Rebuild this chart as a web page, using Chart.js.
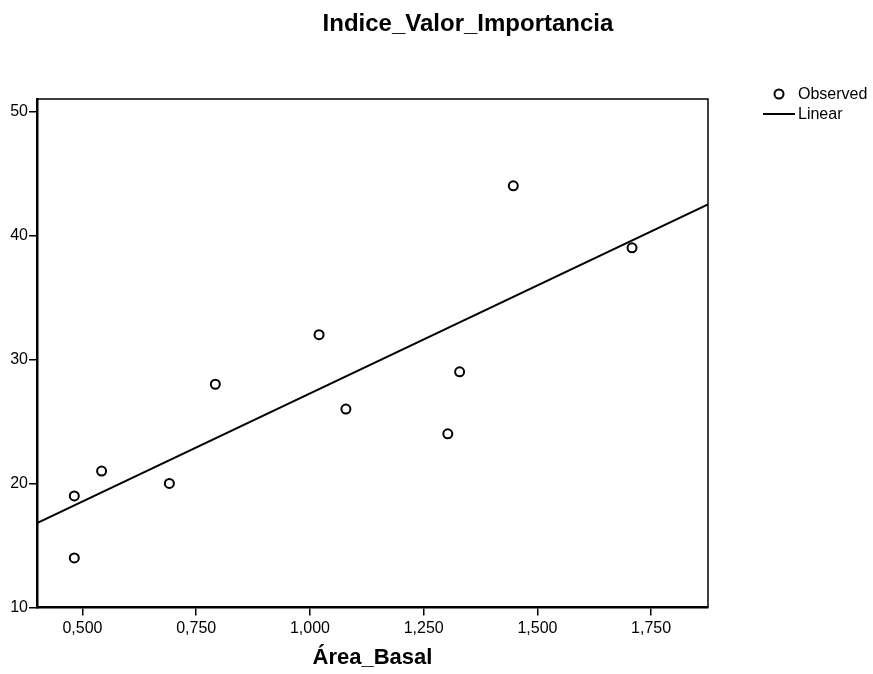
<!DOCTYPE html>
<html>
<head>
<meta charset="utf-8">
<script src="https://cdn.jsdelivr.net/npm/chart.js@4.4.0/dist/chart.umd.min.js"></script>
<style>
  html, body { margin: 0; padding: 0; background: #fff; }
</style>
</head>
<body>
<canvas id="ivChart" width="873" height="674"></canvas>
<script>
// values
var areaBasal = [0.482, 0.482, 0.542, 0.691, 0.792, 1.020, 1.079, 1.303, 1.329, 1.447, 1.708];
var indiceValor = [19, 14, 21, 20, 28, 32, 26, 24, 29, 44, 39];
var linearX = [0.4, 1.875];
var linearY = [16.8, 42.5];
var xTicks = [0.5, 0.75, 1.0, 1.25, 1.5, 1.75];
var yTicks = [10, 20, 30, 40, 50];

var FONT = "'Liberation Sans', Arial, sans-serif";

var decor = {
  id: 'decor',
  afterDraw: function (chart) {
    var ctx = chart.ctx, a = chart.chartArea;
    ctx.save();
    // top and right frame
    ctx.strokeStyle = '#000';
    ctx.lineWidth = 1.5;
    ctx.beginPath();
    ctx.moveTo(a.left, a.top);
    ctx.lineTo(a.right, a.top);
    ctx.lineTo(a.right, a.bottom);
    ctx.stroke();

    ctx.fillStyle = '#000';
    ctx.textAlign = 'center';
    ctx.textBaseline = 'middle';
    ctx.font = 'bold 24px ' + FONT;
    ctx.fillText('Indice_Valor_Importancia', 468, 24);
    ctx.font = 'bold 22px ' + FONT;
    ctx.fillText('Área_Basal', (a.left + a.right) / 2, 658);

    // legend
    ctx.lineWidth = 2;
    ctx.beginPath();
    ctx.arc(779, 94, 4.5, 0, Math.PI * 2);
    ctx.stroke();
    ctx.beginPath();
    ctx.moveTo(763, 114);
    ctx.lineTo(795, 114);
    ctx.stroke();
    ctx.font = '16px ' + FONT;
    ctx.textAlign = 'left';
    ctx.fillText('Observed', 798, 95);
    ctx.fillText('Linear', 798, 115);
    ctx.restore();
  }
};

var observed = areaBasal.map(function (x, i) { return { x: x, y: indiceValor[i] }; });
var linear = linearX.map(function (x, i) { return { x: x, y: linearY[i] }; });

var ctx = document.getElementById('ivChart').getContext('2d');
new Chart(ctx, {
  type: 'scatter',
  data: {
    datasets: [
      {
        label: 'Observed',
        data: observed,
        pointStyle: 'circle',
        pointRadius: 4.5,
        borderColor: '#000',
        backgroundColor: 'rgba(255,255,255,0)',
        borderWidth: 2
      },
      {
        type: 'line',
        label: 'Linear',
        data: linear,
        borderColor: '#000',
        borderWidth: 2,
        pointRadius: 0,
        fill: false
      }
    ]
  },
  options: {
    responsive: false,
    animation: false,
    layout: { padding: { top: 99, right: 165, left: 0, bottom: 0 } },
    plugins: { legend: { display: false }, tooltip: { enabled: false } },
    scales: {
      x: {
        type: 'linear',
        min: 0.4,
        max: 1.875,
        afterBuildTicks: function (s) { s.ticks = xTicks.map(function (v) { return { value: v }; }); },
        afterFit: function (s) { s.height = 66.5; },
        grid: { drawOnChartArea: false, drawTicks: true, tickLength: 8, color: '#000', lineWidth: 1.5 },
        border: { display: true, color: '#000', width: 2.5 },
        ticks: {
          color: '#000',
          font: { family: FONT, size: 16 },
          padding: 3,
          maxRotation: 0,
          autoSkip: false,
          callback: function (v) { return v.toFixed(3).replace('.', ','); }
        }
      },
      y: {
        min: 10,
        max: 51,
        afterBuildTicks: function (s) { s.ticks = yTicks.map(function (v) { return { value: v }; }); },
        afterFit: function (s) { s.width = 37; },
        grid: { drawOnChartArea: false, drawTicks: true, tickLength: 8, color: '#000', lineWidth: 1.5 },
        border: { display: true, color: '#000', width: 2.5 },
        ticks: {
          color: '#000',
          font: { family: FONT, size: 16 },
          padding: 1,
          autoSkip: false
        }
      }
    }
  },
  plugins: [decor]
});
</script>
</body>
</html>
